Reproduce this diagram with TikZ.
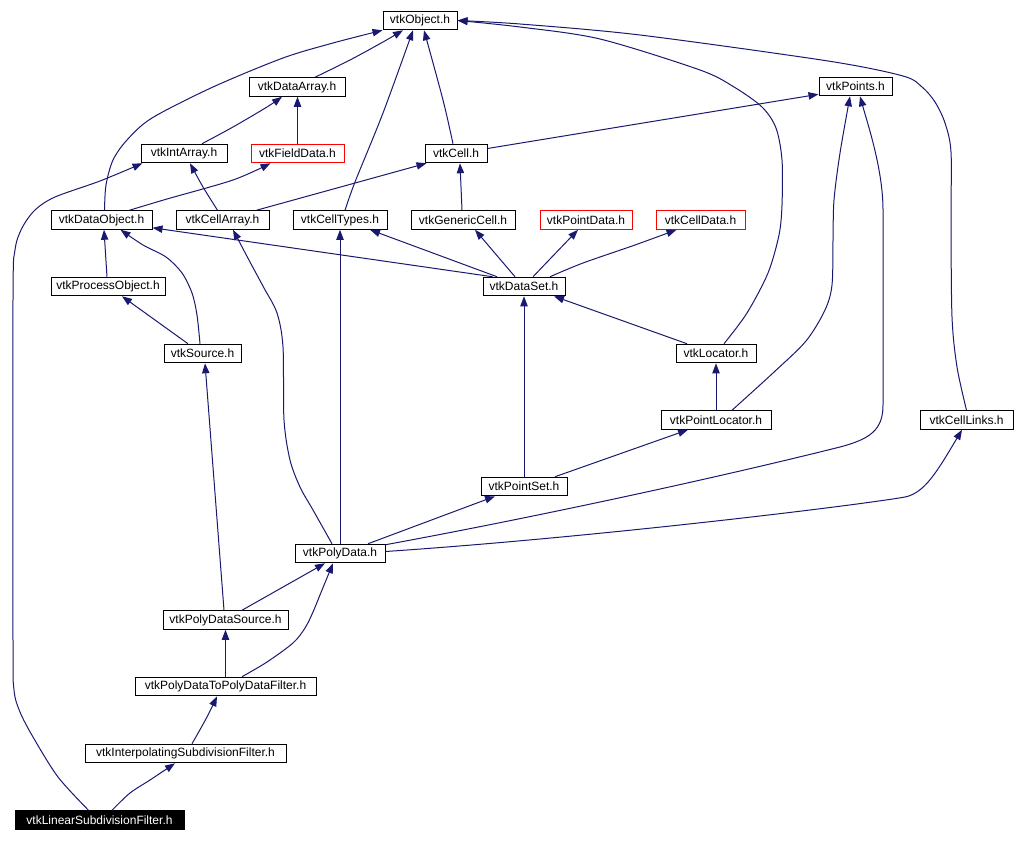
\documentclass[tikz,border=0pt]{standalone}
\usepackage{fontspec}
\setmainfont{Liberation Sans}
\usetikzlibrary{arrows.meta,calc}
\definecolor{edgeblue}{HTML}{191970}
\begin{document}
\begin{tikzpicture}[x=0.75pt,y=-0.75pt,
  box/.style={draw=black, line width=0.75pt, fill=white, inner sep=0pt,
    minimum height=13.9pt, font=\fontsize{9}{10}\selectfont, text=black},
  bw/.style={minimum width=#1*0.75pt},
  redbox/.style={box, draw=red},
  edge/.style={draw=edgeblue, line width=0.75pt,
    -{Triangle[length=7.5pt,width=5.5pt]}},
  sm/.style={smooth, tension=0.5},
]
\useasboundingbox (0,0) rectangle (1016,842);

% nodes
\node[box,bw=74] (obj) at (420,20.5) {vtkObject.h};
\node[box,bw=96] (darr) at (297,87) {vtkDataArray.h};
\node[box,bw=73] (points) at (855.5,86.5) {vtkPoints.h};
\node[box,bw=86] (intarr) at (184,153.5) {vtkIntArray.h};
\node[redbox,bw=93] (field) at (297.5,153.5) {vtkFieldData.h};
\node[box,bw=62] (cell) at (456,153.5) {vtkCell.h};
\node[box,bw=101] (dobj) at (101.5,220) {vtkDataObject.h};
\node[box,bw=93] (carr) at (222.5,220) {vtkCellArray.h};
\node[box,bw=94] (ctypes) at (340,220) {vtkCellTypes.h};
\node[box,bw=104] (gcell) at (463,220) {vtkGenericCell.h};
\node[redbox,bw=92] (pdata) at (586,220) {vtkPointData.h};
\node[redbox,bw=89] (cdata) at (700.5,220) {vtkCellData.h};
\node[box,bw=114] (pobj) at (108,286.5) {vtkProcessObject.h};
\node[box,bw=82] (dset) at (524,286.5) {vtkDataSet.h};
\node[box,bw=77] (source) at (202.5,353.5) {vtkSource.h};
\node[box,bw=80] (locator) at (716,353.5) {vtkLocator.h};
\node[box,bw=110] (plocator) at (716,420) {vtkPointLocator.h};
\node[box,bw=93] (clinks) at (966.5,420) {vtkCellLinks.h};
\node[box,bw=86] (pset) at (524,486.5) {vtkPointSet.h};
\node[box,bw=90] (pdat) at (340,553.5) {vtkPolyData.h};
\node[box,bw=125] (pdsrc) at (225.5,620) {vtkPolyDataSource.h};
\node[box,bw=181] (pd2pd) at (225.5,686.5) {vtkPolyDataToPolyDataFilter.h};
\node[box,bw=201] (interp) at (185.5,753.5) {vtkInterpolatingSubdivisionFilter.h};
\node[box,bw=169,fill=black,text=white] (linear) at (99.5,820) {vtkLinearSubdivisionFilter.h};

% edges (child -> parent)
\draw[edge] plot[sm] coordinates {($(darr.north)+(18,0)$) (350,60) (383,42) ($(obj.south)+(-17,0)$)};
\draw[edge] plot[sm] coordinates {($(dobj.north)+(3,0)$) (106,185) (113,160) (127,140) (152,118) (213,87) (283,58) (333,43) (obj.south west)};
\draw[edge] plot[sm] coordinates {($(ctypes.north)+(5,0)$) (355,182) (383,113) ($(obj.south)+(-7,0)$)};
\draw[edge] plot[sm] coordinates {($(cell.north)+(-3,0)$) (443,100) ($(obj.south)+(4,0)$)};
\draw[edge] plot[sm] coordinates {($(locator.north)+(8,0)$) (747,313) (768,273) (779,235) (782,205) (782,160) (776,128) (762,107) (734,87) (700,70) (600,39) (520,27) (obj.east)};
\draw[edge] plot[sm] coordinates {(clinks.north) (957,367) (952,317) (951,220) (951,152) (945,123) (935,102) (922,87) (903,76) (828,61) (640,35) (520,24) (obj.east)};
\draw[edge] plot[sm] coordinates {($(intarr.north)+(18,0)$) (233,127) (267,107) ($(darr.south)+(-15,0)$)};
\draw[edge] (field.north) -- (field.north |- darr.south);
\draw[edge] plot[sm] coordinates {($(dobj.north)+(28,0)$) (167,199) (233,180) ($(field.south)+(-27,0)$)};
\draw[edge] plot[sm] coordinates {($(linear.north)+(-11,0)$) (58,777) (33,737) (20,712) (14,690) (13,640) (13,300) (15,250) (22,228) (35,210) (55,197) (100,181) ($(intarr.south west)+(2,0)$)};
\draw[edge] plot[sm] coordinates {($(carr.north)+(-5,0)$) (203,187) ($(intarr.south)+(6,0)$)};
\draw[edge] ($(carr.north)+(34,0)$) -- ($(cell.south west)+(2,0)$);
\draw[edge] ($(cell.east)+(0,-5)$) -- ($(points.south west)+(0,-2)$);
\draw[edge] ($(gcell.north)+(-1,0)$) -- ($(cell.south)+(4,0)$);
\draw[edge] ($(dset.north west)+(10,0)$) -- ($(dobj.south east)+(0,-2)$);
\draw[edge] ($(dset.north)+(-27,0)$) -- ($(ctypes.south)+(30,0)$);
\draw[edge] ($(dset.north)+(-9,0)$) -- ($(gcell.south)+(12,0)$);
\draw[edge] ($(dset.north)+(9,0)$) -- ($(pdata.south)+(-8,0)$);
\draw[edge] plot[sm] coordinates {($(dset.north)+(26,0)$) (583,263) (635,245) ($(cdata.south)+(-24,0)$)};
\draw[edge] ($(pobj.north)+(-1,0)$) -- ($(dobj.south)+(2.5,0)$);
\draw[edge] plot[sm] coordinates {($(source.north)+(-2.5,0)$) (197,315) (192,293) (182,273) (166,257) (143,245) ($(dobj.south)+(19,0)$)};
\draw[edge] ($(source.north)+(-14.5,0)$) -- ($(pobj.south)+(14,0)$);
\draw[edge] ($(locator.north)+(-29,0)$) -- ($(dset.south)+(30,0)$);
\draw[edge] (plocator.north) -- (locator.south);
\draw[edge] plot[sm] coordinates {($(plocator.north)+(16,0)$) (773,373) (806,341) (825,310) (832,285) (833,240) (834,200) (840,153) ($(points.south)+(-5.5,0)$)};
\draw[edge] ($(pdat.north east)+(0,1)$) .. controls (520,520) and (700,482) .. (840,447)
  .. controls (870,439) and (883,430) .. (883,405) -- (883,210)
  .. controls (883,170) and (868,125) .. ($(points.south)+(4.5,0)$);
\draw[edge] ($(pdat.east)+(0,-2)$) .. controls (600,537) and (860,505) .. (905,497)
  .. controls (925,493) and (938,470) .. ($(clinks.south)+(-4.5,0)$);
\draw[edge] (pset.north) -- (dset.south);
\draw[edge] ($(pset.north)+(31,0)$) -- ($(plocator.south)+(-28,0)$);
\draw[edge] ($(pdat.north)+(28,0)$) -- ($(pset.south)+(-29,0)$);
\draw[edge] plot[sm] coordinates {($(pdat.north)+(-8,0)$) (313,510) (300,487) (290,460) (284,420) (283,347) (277,313) (264,288) (250,262) ($(carr.south)+(10.5,0)$)};
\draw[edge] (pdat.north) -- (ctypes.south);
\draw[edge] ($(pdsrc.north)+(16.5,0)$) -- ($(pdat.south)+(-15,0)$);
\draw[edge] ($(pdsrc.north)+(-1.5,0)$) -- ($(source.south)+(2.5,0)$);
\draw[edge] (pd2pd.north) -- (pdsrc.south);
\draw[edge] plot[sm] coordinates {($(pd2pd.north)+(16.5,0)$) (267,662) (293,643) (305,628) (313,612) (322,590) ($(pdat.south)+(-7,0)$)};
\draw[edge] plot[sm] coordinates {($(interp.north)+(6.5,0)$) (207,717) ($(pd2pd.south)+(-8.5,0)$)};
\draw[edge] plot[sm] coordinates {($(linear.north)+(12.5,0)$) (130,793) (150,780) ($(interp.south)+(-10.5,0)$)};
\end{tikzpicture}
\end{document}
